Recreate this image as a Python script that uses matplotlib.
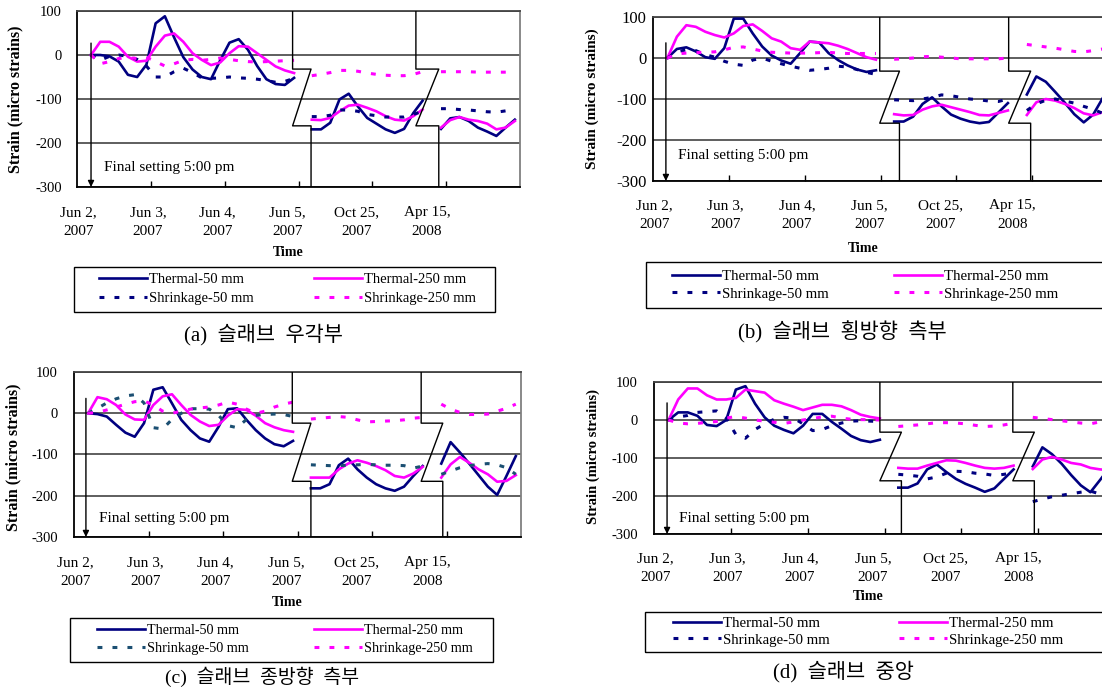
import numpy as np
import matplotlib
matplotlib.use('Agg')
import matplotlib.pyplot as plt
from matplotlib.patches import Rectangle

plt.rcParams['font.family'] = ['Liberation Serif', 'Noto Sans CJK KR']

W, H = 1102, 690

# Time axis in category units: three measured periods, one reading every 3 hours
seg_start = [0.19, 3.18, 4.93]
step = 0.125

tick_labels = ['Jun 2,\n2007', 'Jun 3,\n2007', 'Jun 4,\n2007',
               'Jun 5,\n2007', 'Oct 25,\n2007', 'Apr 15,\n2008']
label_pos = [0.02, 0.96, 1.9, 2.85, 3.79, 4.74]
series_names = ['Thermal-50 mm', 'Thermal-250 mm', 'Shrinkage-50 mm', 'Shrinkage-250 mm']
captions = ['(a)  슬래브  우각부', '(b)  슬래브  횡방향  측부',
            '(c)  슬래브  종방향  측부', '(d)  슬래브  중앙']

# (a) slab corner
a_thermal_50 = [
    [0, 0, -3, -15, -45, -50, -22, 72, 88, 40, -5, -33, -50, -55, -12, 28, 36, 12, -25, -55, -66, -68, -52],
    [-169, -169, -154, -101, -88, -117, -143, -156, -169, -177, -168, -132, -104],
    [-168, -144, -141, -150, -165, -174, -184, -165, -147],
]
a_thermal_250 = [
    [0, 30, 30, 19, -4, -15, -13, 19, 44, 49, 30, 4, -11, -23, -17, 4, 20, 19, 4, -11, -26, -35, -41],
    [-147, -148, -143, -128, -115, -113, -120, -128, -139, -147, -149, -139, -124],
    [-165, -148, -141, -147, -150, -156, -169, -165, -150],
]
a_shrink_50 = [
    [0, -12, -3, 0, -3, -10, -25, -50, -50, -38, -30, -40, -52, -53, -52, -50, -52, -53, -55, -58, -62, -60, -53],
    [-140, -140, -137, -125, -125, -128, -135, -138, -141, -141, -141, -135, -128],
    [-122, -122, -124, -125, -127, -129, -130, -127, -123],
]
a_shrink_250 = [
    [0, -20, -15, -8, -6, -8, -5, -15, -25, -20, -12, -10, -12, -10, -7, -10, -13, -15, -16, -15, -14, -13, -12],
    [-47, -44, -40, -35, -35, -37, -41, -44, -46, -47, -47, -44, -38],
    [-38, -38, -38, -38, -39, -39, -39, -39, -39],
]

# (b) slab transverse edge
b_thermal_50 = [
    [0, 22, 26, 16, 2, -2, 24, 96, 96, 60, 28, 6, -6, -14, 12, 40, 38, 12, -5, -18, -28, -34, -30],
    [-155, -155, -143, -112, -96, -118, -138, -148, -155, -159, -156, -133, -110],
    [-89, -45, -58, -83, -109, -137, -157, -138, -98],
]
b_thermal_250 = [
    [0, 52, 80, 76, 64, 56, 50, 60, 78, 82, 66, 48, 40, 24, 20, 40, 38, 36, 30, 22, 12, 2, -4],
    [-137, -140, -139, -126, -118, -114, -120, -126, -132, -139, -140, -134, -128],
    [-139, -108, -100, -104, -112, -122, -135, -140, -132],
]
b_shrink_50 = [
    [0, 15, 20, 18, 8, 2, -8, -15, -18, -5, 0, -8, -14, -20, -25, -30, -28, -25, -20, -22, -28, -35, -40],
    [-102, -103, -104, -100, -96, -90, -92, -96, -100, -102, -105, -106, -100],
    [-128, -112, -103, -100, -105, -110, -118, -125, -135],
]
b_shrink_250 = [
    [0, 10, 12, 13, 14, 15, 20, 26, 27, 22, 17, 14, 13, 12, 12, 12, 13, 14, 12, 11, 11, 11, 11],
    [-3, -2, 0, 3, 4, 2, 0, -2, -2, -2, -2, -2, 0],
    [33, 30, 27, 24, 20, 16, 15, 18, 22],
]

# (c) slab longitudinal edge
c_thermal_50 = [
    [0, -2, -8, -28, -47, -57, -24, 57, 63, 24, -16, -41, -61, -69, -33, 10, 12, -16, -41, -61, -75, -80, -67],
    [-182, -182, -172, -126, -110, -136, -156, -172, -182, -188, -178, -152, -128],
    [-122, -70, -95, -122, -150, -178, -198, -152, -104],
]
c_thermal_250 = [
    [0, 39, 34, 20, -3, -15, -16, 20, 41, 46, 20, -4, -20, -31, -28, -6, 10, 8, -6, -24, -34, -41, -45],
    [-156, -156, -156, -136, -122, -114, -120, -128, -138, -152, -156, -146, -130],
    [-156, -124, -106, -120, -136, -148, -166, -164, -150],
]
c_shrink_50 = [
    [0, 12, 25, 35, 42, 45, 25, -35, -38, -15, 0, 11, 11, 10, -5, -30, -35, -15, -5, -3, -2, -3, -8],
    [-125, -126, -127, -127, -126, -125, -124, -125, -126, -126, -127, -133, -128],
    [-148, -140, -132, -127, -124, -122, -125, -132, -148],
]
c_shrink_250 = [
    [0, 2, 8, 15, 22, 28, 30, 20, 5, 0, 5, 10, 13, 15, 20, 27, 22, 10, 0, 5, 15, 22, 27],
    [-14, -12, -10, -8, -10, -16, -21, -20, -19, -18, -16, -12, -10],
    [22, 10, 2, -3, -3, -2, 5, 12, 22],
]

# (d) slab centre
d_thermal_50 = [
    [0, 20, 20, 11, -13, -16, 0, 80, 89, 43, 7, -15, -26, -35, -15, 16, 16, -5, -23, -42, -53, -58, -52],
    [-178, -178, -167, -130, -117, -137, -155, -168, -178, -189, -180, -155, -130],
    [-122, -72, -90, -115, -145, -172, -190, -158, -125],
]
d_thermal_250 = [
    [0, 54, 83, 83, 65, 54, 54, 58, 80, 76, 72, 52, 43, 35, 26, 33, 40, 40, 36, 26, 14, 8, 4],
    [-126, -128, -128, -120, -113, -106, -107, -113, -120, -126, -128, -126, -120],
    [-129, -104, -97, -104, -113, -117, -126, -130, -132],
]
d_shrink_50 = [
    [0, 8, 12, 20, 22, 24, 5, -38, -48, -25, -10, 2, 7, 5, -10, -28, -25, -15, -8, -3, -2, -3, -4],
    [-143, -145, -148, -155, -150, -140, -135, -136, -140, -142, -146, -143, -138],
    [-215, -208, -202, -198, -194, -190, -187, -195, -200],
]
d_shrink_250 = [
    [0, -8, -10, -9, -6, -4, 5, 9, 5, 0, -3, -6, -9, -5, 0, 4, 8, 10, 5, 2, 1, 1, 0],
    [-17, -15, -13, -10, -7, -7, -8, -10, -14, -17, -16, -13, -8],
    [7, 4, 1, -2, -5, -8, -10, -5, -2],
]

panel_data = [
    (a_thermal_50, a_thermal_250, a_shrink_50, a_shrink_250),
    (b_thermal_50, b_thermal_250, b_shrink_50, b_shrink_250),
    (c_thermal_50, c_thermal_250, c_shrink_50, c_shrink_250),
    (d_thermal_50, d_thermal_250, d_shrink_50, d_shrink_250),
]

# layout in pixels of the 1102x690 picture
layouts = [
    dict(box=(77, 11, 520, 187), ypad=11, ysize=10.5, xpad=14, ylab=(15, 99), ylab_size=11.5,
         time=(288, 253), leg_box=(74, 267, 495, 312), leg_span=(99, 476), leg_rows=(280, 299),
         leg_size=10.5, cap=(263, 335), cap_size=15, arrow=(0.19, 27), note=(0.36, -255),
         breaks=[(2.92, 3.17), (4.59, 4.90)], break_y=(-32, -161), s50='#000080'),
    dict(box=(653, 17, 1108, 181), ypad=4.5, ysize=12, xpad=13, ylab=(592, 99), ylab_size=11,
         time=(863, 248), leg_box=(646, 262, 1130, 308), leg_span=(672, 1058), leg_rows=(277, 295),
         leg_size=10.7, cap=(842, 332), cap_size=15, arrow=(0.17, 37), note=(0.33, -237),
         breaks=[(2.99, 3.25), (4.69, 4.98)], break_y=(-32, -159), s50='#000080'),
    dict(box=(74, 372, 521, 537), ypad=11.5, ysize=10.5, xpad=14, ylab=(13, 457), ylab_size=11.5,
         time=(287, 603), leg_box=(70, 618, 493, 662), leg_span=(97, 473), leg_rows=(631, 649),
         leg_size=10.2, cap=(262, 677), cap_size=14, arrow=(0.16, 36), note=(0.34, -254),
         breaks=[(2.93, 3.18), (4.66, 4.95)], break_y=(-24, -165), s50='#1b4f72'),
    dict(box=(654, 382, 1115, 534), ypad=11.5, ysize=10.5, xpad=13, ylab=(593, 457), ylab_size=10.5,
         time=(868, 597), leg_box=(645, 612, 1130, 652), leg_span=(673, 1063), leg_rows=(624, 641),
         leg_size=10.7, cap=(843, 672), cap_size=15, arrow=(0.17, 45), note=(0.33, -258),
         breaks=[(2.94, 3.22), (4.67, 4.95)], break_y=(-32, -160), s50='#000080'),
]


def fx(x):
    return x / W


def fy(y):
    return 1 - y / H


fig = plt.figure(figsize=(W / 100, H / 100), dpi=100)

for data, lay, cap in zip(panel_data, layouts, captions):
    l, t, r, b = lay['box']
    ax = fig.add_axes([fx(l), fy(b), (r - l) / W, (b - t) / H])
    ax.set_xlim(0, 6)
    ax.set_ylim(-300, 100)
    ax.set_axisbelow(True)

    colors = ['#000080', '#ff00ff', lay['s50'], '#ff00ff']
    handles = []
    for k, (series, col) in enumerate(zip(data, colors)):
        dashed = k >= 2
        for s, vals in enumerate(series):
            xs = seg_start[s] + step * np.arange(len(vals))
            if dashed:
                ln, = ax.plot(xs, vals, color=col, lw=2.2, linestyle=(0, (1.6, 3.3)),
                              dash_capstyle='butt', zorder=3)
            else:
                ln, = ax.plot(xs, vals, color=col, lw=1.9, zorder=3)
            if s == 0:
                handles.append(ln)

    # axis breaks drawn as Z-shaped lines
    yh, yl = lay['break_y']
    for xa, xb in lay['breaks']:
        ax.plot([xa, xa, xb, xa, xb, xb], [100, yh, yh, yl, yl, -300],
                color='black', lw=1.0, zorder=4)

    ax.annotate('', xy=(lay['arrow'][0], -300), xytext=lay['arrow'],
                arrowprops=dict(arrowstyle='-|>', color='black', lw=1.0,
                                mutation_scale=9, shrinkA=0, shrinkB=0), zorder=5)
    ax.text(lay['note'][0], lay['note'][1], 'Final setting 5:00 pm',
            fontsize=11, ha='left', va='center')

    ax.set_yticks([-300, -200, -100, 0, 100])
    ax.set_yticklabels(['-300', '-200', '-100', '0', '100'])
    ax.tick_params(axis='y', length=0, pad=lay['ypad'], labelsize=lay['ysize'])
    ax.set_xticks(label_pos)
    ax.set_xticklabels(tick_labels, linespacing=1.6)
    ax.tick_params(axis='x', which='major', length=0, pad=lay['xpad'], labelsize=11)
    ax.set_xticks([1, 2, 3, 4, 5], minor=True)
    ax.tick_params(axis='x', which='minor', direction='in', length=4.5, width=1.0, color='black')
    ax.grid(axis='y', color='#333333', lw=1.1)
    for side in ['left', 'bottom']:
        ax.spines[side].set_color('black')
        ax.spines[side].set_linewidth(1.3)
    ax.spines['top'].set_color('#444444')
    ax.spines['top'].set_linewidth(1.3)
    ax.spines['right'].set_color('#808080')
    ax.spines['right'].set_linewidth(1.3)

    fig.text(fx(lay['ylab'][0]), fy(lay['ylab'][1]), 'Strain (micro strains)', rotation=90,
             ha='center', va='center', fontweight='bold', fontsize=lay['ylab_size'])
    fig.text(fx(lay['time'][0]), fy(lay['time'][1]), 'Time', ha='center', va='center',
             fontweight='bold', fontsize=10)

    # legend: frame drawn separately, entries spread over the frame width
    bl, bt, br, bb = lay['leg_box']
    fig.add_artist(Rectangle((fx(bl), fy(bb)), (br - bl) / W, (bb - bt) / H,
                             transform=fig.transFigure, fill=False, ec='black', lw=1.0))
    fs_px = lay['leg_size'] * 100 / 72
    row_h = 0.95 * fs_px
    r1, r2 = lay['leg_rows']
    x0, x1 = lay['leg_span']
    order = [0, 2, 1, 3]
    fig.legend([handles[i] for i in order], [series_names[i] for i in order],
               ncol=2, mode='expand', loc='upper left',
               bbox_to_anchor=(fx(x0), fy(r1 - row_h / 2), (x1 - x0) / W, 0),
               bbox_transform=fig.transFigure, frameon=False, borderpad=0,
               borderaxespad=0, handlelength=48 / fs_px, handletextpad=0.15,
               labelspacing=(r2 - r1 - row_h) / fs_px, fontsize=lay['leg_size'])

    fig.text(fx(lay['cap'][0]), fy(lay['cap'][1]), cap,
             ha='center', va='center', fontsize=lay['cap_size'])

fig.savefig('out.png', dpi=100)
